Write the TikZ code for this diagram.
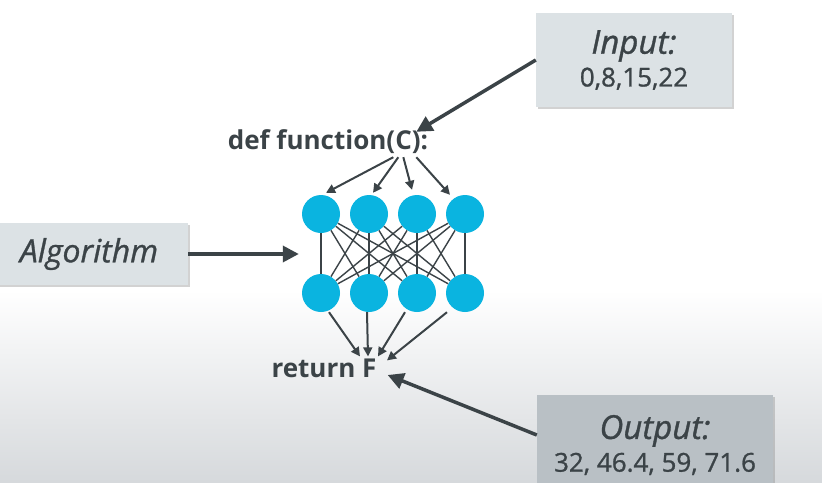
\documentclass[tikz,border=0pt]{standalone}
\usepackage{fontspec}
\setmainfont{Open Sans}
\newfontfamily\semifont{Open Sans}[FakeBold=1]
\usetikzlibrary{arrows.meta,shadows}
\definecolor{nodeblue}{HTML}{0AB4E0}
\definecolor{inkgray}{HTML}{3B4347}
\definecolor{boxgray}{HTML}{DCE2E5}
\definecolor{boxdark}{HTML}{B9C0C5}
\definecolor{floorgray}{HTML}{D6D9DC}

\begin{document}
\begin{tikzpicture}[x=1pt, y=-1pt,
neuron_style/.style={circle, fill=nodeblue, minimum size=38pt, inner sep=0pt},
box_style/.style={fill=boxgray, text=inkgray, align=center, font=\semifont, drop shadow={shadow xshift=2pt, shadow yshift=-2pt, opacity=0.35}},
code_style/.style={text=inkgray, inner sep=2pt, font=\bfseries\fontsize{26}{30}\selectfont},
link_style/.style={draw=inkgray, line width=1.4pt},
tip_style/.style={draw=inkgray, line width=2pt, -{Triangle[length=9pt, width=9pt]}},
pointer_style/.style={draw=inkgray, line width=3.5pt, -{Triangle[length=16pt, width=16pt]}}]

\useasboundingbox (0,0) rectangle (822,482);
\clip (0,0) rectangle (822,482);
\fill[white] (0,0) rectangle (822,482);
\shade[top color=white, bottom color=floorgray] (0,290) rectangle (822,482);

% network
\node[neuron_style] (t1) at (321,214) {};
\node[neuron_style] (t2) at (369,214) {};
\node[neuron_style] (t3) at (417,214) {};
\node[neuron_style] (t4) at (465,214) {};
\node[neuron_style] (b1) at (321,293) {};
\node[neuron_style] (b2) at (369,293) {};
\node[neuron_style] (b3) at (417,293) {};
\node[neuron_style] (b4) at (465,293) {};

\draw[link_style] (t1) edge (b1) edge (b2) edge (b3) edge (b4);
\draw[link_style] (t2) edge (b1) edge (b2) edge (b3) edge (b4);
\draw[link_style] (t3) edge (b1) edge (b2) edge (b3) edge (b4);
\draw[link_style] (t4) edge (b1) edge (b2) edge (b3) edge (b4);

% code lines
\node[code_style] (def) at (328,142) {def function(C):};
\node[code_style] (ret) at (324,368) {return F};

% boxes
\node[box_style, minimum width=196pt, minimum height=94pt] (input) at (634,60)
  {{\itshape\fontsize{33}{38}\selectfont Input:}\\[5pt]{\fontsize{26}{30}\selectfont 0,8,15,22}};
\node[box_style, minimum width=198pt, minimum height=62pt, font=\semifont\itshape\fontsize{32}{36}\selectfont] (algo) at (89,254) {Algorithm};
\node[box_style, fill=boxdark, minimum width=236pt, minimum height=100pt] (output) at (655,445)
  {{\itshape\fontsize{33}{38}\selectfont Output:}\\[5pt]{\fontsize{26}{30}\selectfont 32, 46.4, 59, 71.6}};

% arrows
\draw[pointer_style] (input.west) -- ([xshift=-14pt, yshift=-4pt]def.north east);
\draw[pointer_style] (algo.east) -- ([xshift=-3pt]algo.east -| b1.west);
\draw[pointer_style] ([yshift=10pt]output.west) -- ([xshift=9pt, yshift=-7pt]ret.east);

\draw[tip_style] ([xshift=-37pt, yshift=-1pt]def.south east) -- ([xshift=5pt, yshift=2pt]t1.north);
\draw[tip_style] ([xshift=-32pt, yshift=-1pt]def.south east) -- ([xshift=4pt, yshift=2pt]t2.north);
\draw[tip_style] ([xshift=-27pt, yshift=-1pt]def.south east) -- ([xshift=-5pt, yshift=5pt]t3.north);
\draw[tip_style] ([xshift=-14pt, yshift=-1pt]def.south east) -- ([xshift=-15pt]t4.north);

\draw[tip_style] ([xshift=8pt]b1.south) -- ([xshift=36pt]ret.north);
\draw[tip_style] ([xshift=-2pt]b2.south) -- ([xshift=44pt]ret.north);
\draw[tip_style] ([xshift=-12pt]b3.south) -- ([xshift=54pt]ret.north);
\draw[tip_style] ([xshift=-18pt]b4.south) -- ([xshift=63pt, yshift=-4pt]ret.north);

\end{tikzpicture}
\end{document}
